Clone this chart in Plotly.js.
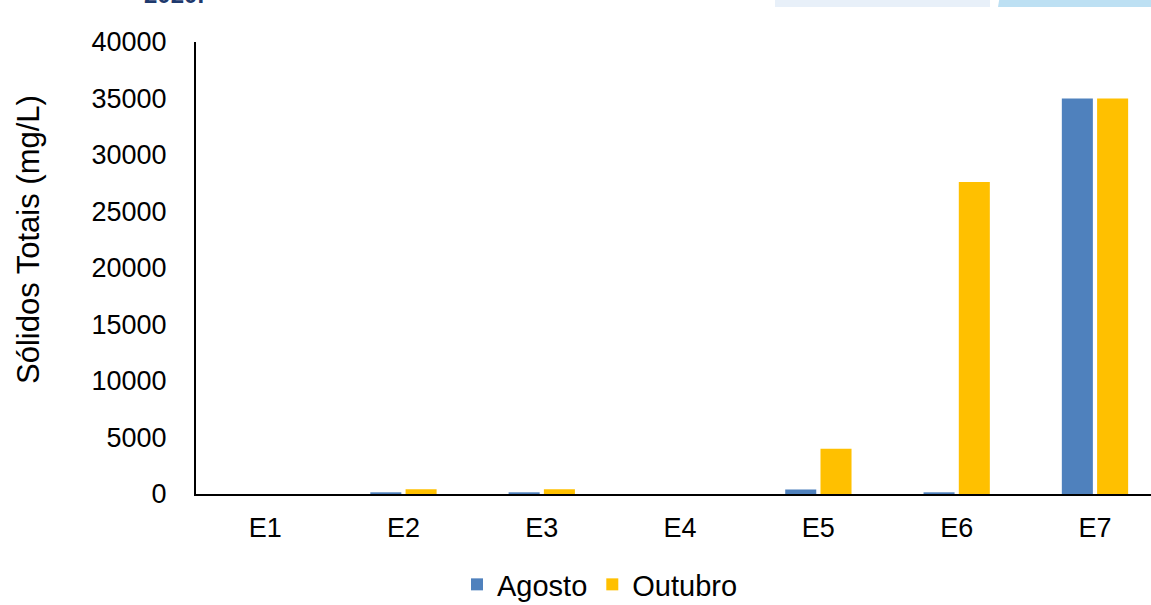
<!DOCTYPE html>
<html>
<head>
<meta charset="utf-8">
<script src="https://cdn.plot.ly/plotly-3.0.1.min.js"></script>
<style>html,body{margin:0;padding:0;background:#fff;}#chart{width:1151px;height:605px;}</style>
</head>
<body>
<div id="chart"></div>
<script>
const categories = ["E1", "E2", "E3", "E4", "E5", "E6", "E7"];
const agosto = [0, 150, 150, 0, 400, 150, 35000];
const outubro = [0, 420, 420, 0, 4000, 27600, 35000];
const yTicks = [0, 5000, 10000, 15000, 20000, 25000, 30000, 35000, 40000];

const FONT = "Liberation Sans, Arial, sans-serif";
const W = 1151, H = 605, L = 196, T = 42, B = 111, R = 0;
const pw = W - L - R, ph = H - T - B;
const px = v => (v - L) / pw;
const py = v => (H - B - v) / ph;

const traces = [
  {type: "bar", name: "Agosto", x: categories, y: agosto, marker: {color: "#4f81bd"}},
  {type: "bar", name: "Outubro", x: categories, y: outubro, marker: {color: "#ffc000"}}
];

const layout = {
  width: W, height: H,
  margin: {l: L, r: R, t: T, b: B, autoexpand: false},
  paper_bgcolor: "#ffffff", plot_bgcolor: "#ffffff",
  font: {family: FONT, color: "#000000", size: 27},
  barmode: "group", bargap: 0.49, bargroupgap: 0.12,
  showlegend: true,
  legend: {orientation: "h", x: px(600), xanchor: "center", y: py(610), yanchor: "bottom",
           font: {size: 29, family: FONT, color: "#000"}, itemwidth: 30, traceorder: "normal",
           bgcolor: "rgba(0,0,0,0)"},
  xaxis: {type: "category", range: [-0.5, 6.405], showline: true, linecolor: "#000", linewidth: 2,
          showgrid: false, zeroline: false, ticks: "", ticklabelstandoff: 9,
          tickfont: {size: 27, family: FONT, color: "#000"}},
  yaxis: {range: [0, 40000], tickvals: yTicks, ticktext: yTicks.map(String), showline: true,
          linecolor: "#000", linewidth: 2, showgrid: false, zeroline: false, ticks: "",
          ticklabelstandoff: 22, tickfont: {size: 27, family: FONT, color: "#000"}},
  annotations: [
    {text: "Sólidos Totais (mg/L)", textangle: -90, xref: "paper", yref: "paper",
     x: px(28), y: py(240), xanchor: "center", yanchor: "middle", showarrow: false,
     font: {size: 31, family: FONT, color: "#000"}},
    {text: "<b>2020.</b>", xref: "paper", yref: "paper", x: px(142), y: py(10),
     xanchor: "left", yanchor: "bottom", showarrow: false,
     font: {size: 24, family: FONT, color: "#1f3a6e"}}
  ],
  shapes: [
    {type: "rect", xref: "paper", yref: "paper", x0: px(775), x1: px(990), y0: py(7), y1: py(-5),
     fillcolor: "#e8f0f9", line: {width: 0}, layer: "above"},
    {type: "path", xref: "paper", yref: "paper",
     path: "M" + px(1000) + "," + py(-5) + " L" + px(1151) + "," + py(-5) + " L" + px(1151) + "," + py(7) + " L" + px(998) + "," + py(7) + " Z",
     fillcolor: "#bde0f3", line: {width: 0}, layer: "above"}
  ]
};

Plotly.newPlot("chart", traces, layout, {displayModeBar: false, staticPlot: true});
</script>
</body>
</html>
